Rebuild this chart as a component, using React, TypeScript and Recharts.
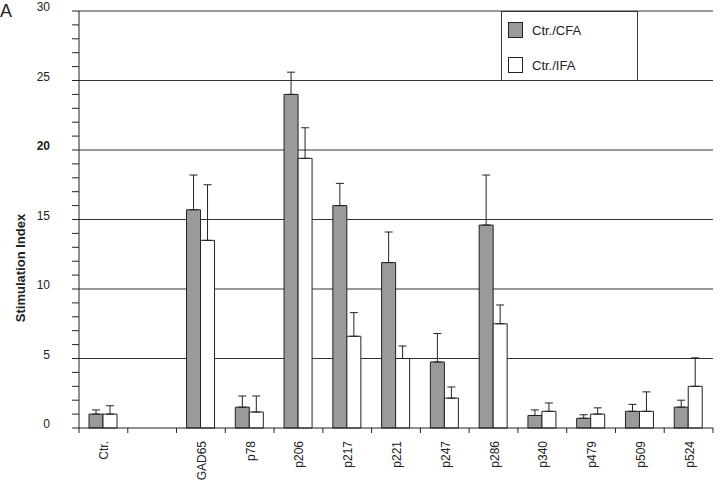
import { BarChart, Bar, XAxis, YAxis, CartesianGrid, ErrorBar, Legend } from 'recharts'

const CATEGORIES = ['Ctr.', '', 'GAD65', 'p78', 'p206', 'p217', 'p221', 'p247', 'p286', 'p340', 'p479', 'p509', 'p524']

// mean stimulation index, Ctr./CFA
const CFA = [1.0, null, 15.7, 1.5, 24.0, 16.0, 11.9, 4.75, 14.6, 0.9, 0.7, 1.2, 1.5]
// upper error (SD) for Ctr./CFA
const CFA_ERR = [0.3, null, 2.5, 0.8, 1.6, 1.6, 2.2, 2.05, 3.6, 0.4, 0.25, 0.5, 0.5]

// mean stimulation index, Ctr./IFA
const IFA = [1.0, null, 13.5, 1.15, 19.4, 6.6, 5.0, 2.15, 7.5, 1.2, 1.0, 1.2, 3.0]
const IFA_ERR = [0.6, null, 4.0, 1.15, 2.2, 1.7, 0.9, 0.8, 1.35, 0.6, 0.45, 1.4, 2.05]

const Y_TICKS = [0, 1, 2, 3, 4, 5, 6, 7, 8, 9, 10, 11, 12, 13, 14, 15, 16, 17, 18, 19, 20, 21, 22, 23, 24, 25, 26, 27, 28, 29, 30]
const GRID_VALUES = [5, 10, 15, 20, 25, 30]

const SERIES = [
  { key: 'cfa', name: 'Ctr./CFA', fill: '#9a9a9a' },
  { key: 'ifa', name: 'Ctr./IFA', fill: '#ffffff' },
]

const data = CATEGORIES.map((name, i) => ({
  name,
  cfa: CFA[i],
  ifa: IFA[i],
  cfaErr: CFA_ERR[i] == null ? undefined : [0, CFA_ERR[i]],
  ifaErr: IFA_ERR[i] == null ? undefined : [0, IFA_ERR[i]],
}))

const W = 720
const H = 486
const LEFT = 79
const RIGHT = 7
const BAND = (W - LEFT - RIGHT) / CATEGORIES.length
const FONT = '"Liberation Sans", Arial, sans-serif'

function YTick({ x, y, payload }: any) {
  const v = payload.value
  if (v % 5 !== 0) return null
  return (
    <text x={x} y={y} textAnchor="end" fontSize={12} fontFamily={FONT} fill="#222"
      fontWeight={v === 20 ? 'bold' : 'normal'}>
      {v}
    </text>
  )
}

function XTick({ x, y, payload, index }: any) {
  const last = index === CATEGORIES.length - 1
  return (
    <g>
      <line x1={x - BAND / 2} x2={x - BAND / 2} y1={y} y2={y + 5} stroke="#222" />
      {last && <line x1={x + BAND / 2} x2={x + BAND / 2} y1={y} y2={y + 5} stroke="#222" />}
      <text x={x + 1} y={y + 13} transform={`rotate(-90 ${x + 1} ${y + 13})`} textAnchor="end"
        dominantBaseline="central" fontSize={12} fontFamily={FONT} fill="#222">
        {payload.value}
      </text>
    </g>
  )
}

function LegendBox() {
  return (
    <div style={{
      width: 137, height: 70, boxSizing: 'border-box', border: '1px solid #333',
      background: '#fff', position: 'relative', fontFamily: FONT, fontSize: 13, color: '#222',
    }}>
      {SERIES.map((s, i) => (
        <div key={s.key} style={{ position: 'absolute', left: 6, top: 10 + i * 35, display: 'flex', alignItems: 'center' }}>
          <span style={{ width: 13, height: 14, background: s.fill, border: '1px solid #222', display: 'inline-block' }} />
          <span style={{ marginLeft: 9 }}>{s.name}</span>
        </div>
      ))}
    </div>
  )
}

export default function App() {
  return (
    <div style={{ position: 'absolute', left: 0, top: 0, width: W, height: H, background: '#fff' }}>
      <div style={{ position: 'absolute', left: 0, top: 1, lineHeight: '20px', fontFamily: FONT, fontSize: 18, color: '#222' }}>A</div>
      <BarChart width={W} height={H} data={data} barGap={0} barSize={14}
        margin={{ top: 11, right: RIGHT, bottom: 0, left: 0 }}>
        <CartesianGrid horizontal vertical={false} horizontalValues={GRID_VALUES} stroke="#333" />
        <XAxis dataKey="name" height={58} interval={0} tickLine={false} tickSize={0} tickMargin={0}
          tick={<XTick />} axisLine={{ stroke: '#222' }} />
        <YAxis width={LEFT} domain={[0, 30]} ticks={Y_TICKS} interval={0} tickSize={7} tickMargin={22}
          tick={<YTick />} tickLine={{ stroke: '#222' }} axisLine={{ stroke: '#222' }}
          label={() => (
            <text x={20} y={268} transform="rotate(-90 20 268)" textAnchor="middle" dominantBaseline="central"
              fontSize={13} fontWeight="bold" fontFamily={FONT} fill="#222">
              Stimulation Index
            </text>
          )} />
        <Legend layout="horizontal" verticalAlign="middle" align="center" content={<LegendBox />}
          wrapperStyle={{ position: 'absolute', left: 501, top: 11, width: 137, height: 70 }} />
        {SERIES.map((s) => (
          <Bar key={s.key} dataKey={s.key} name={s.name} fill={s.fill} stroke="#222" strokeWidth={1}
            isAnimationActive={false}>
            <ErrorBar dataKey={`${s.key}Err`} direction="y" width={4} stroke="#222" strokeWidth={1} />
          </Bar>
        ))}
      </BarChart>
    </div>
  )
}
